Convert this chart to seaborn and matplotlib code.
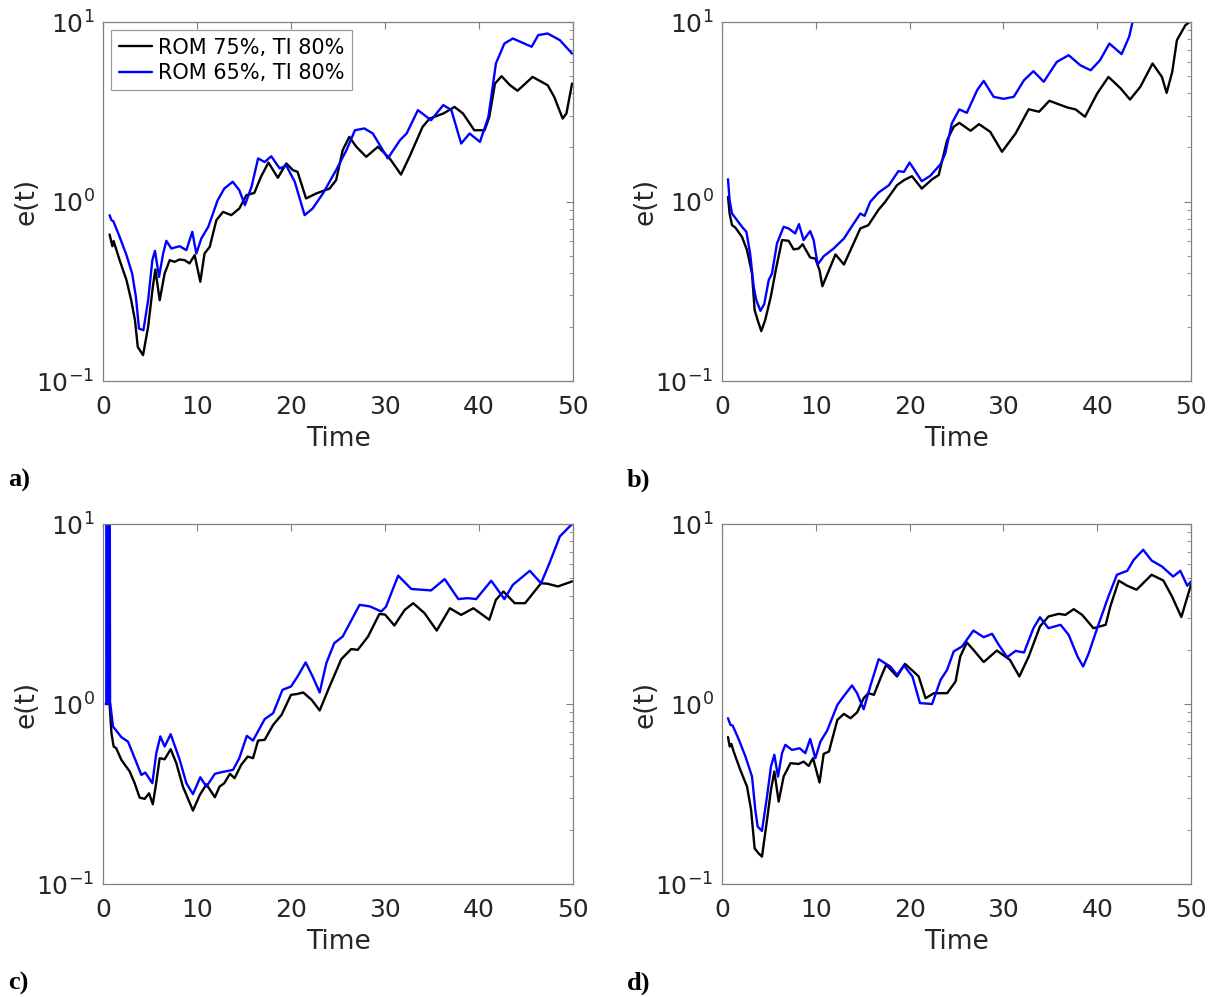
import numpy as np
import pandas as pd
import matplotlib
matplotlib.use("Agg")
import matplotlib.pyplot as plt
import matplotlib.ticker as mticker
import seaborn as sns

# ---------------- data (log10 of e(t)) ----------------
series_names = ["ROM 75%, TI 80%", "ROM 65%, TI 80%"]
series_colors = ["#000000", "#0000ff"]
panel_labels = ["a)", "b)", "c)", "d)"]

a_black_t = [0.7, 1.0, 1.13, 1.77, 2.5, 3.0, 3.4, 3.7, 4.26, 4.8, 5.3, 5.57, 6.03, 6.56, 7.1, 7.6, 8.16, 8.7, 9.2, 9.75,
             10.35, 10.8, 11.35, 12.06, 12.77, 13.65, 14.5, 15.25, 16.1, 16.8, 17.6, 18.6, 19.5, 20.2, 20.7, 21.6, 22.7,
             24.1, 24.8, 25.5, 26.2, 26.95, 28.0, 29.25, 30.5, 31.7, 32.6, 34.0, 34.75, 36.2, 37.4, 38.3, 39.5, 40.6,
             41.1, 41.7, 42.4, 43.3, 44.1, 45.7, 47.3, 48.0, 48.9, 49.3, 49.9]
a_black_log = [-0.184, -0.249, -0.22, -0.327, -0.438, -0.55, -0.661, -0.81, -0.856, -0.698, -0.475, -0.379, -0.55,
               -0.40, -0.327, -0.336, -0.323, -0.327, -0.345, -0.299, -0.447, -0.29, -0.253, -0.104, -0.058, -0.076,
               -0.039, 0.035, 0.048, 0.137, 0.217, 0.132, 0.212, 0.175, 0.165, 0.017, 0.045, 0.072, 0.119, 0.286,
               0.36, 0.305, 0.249, 0.305, 0.24, 0.150, 0.249, 0.416, 0.462, 0.49, 0.527, 0.49, 0.397, 0.397, 0.472,
               0.657, 0.698, 0.648, 0.617, 0.694, 0.648, 0.583, 0.462, 0.49, 0.657]
a_blue_t = [0.7, 0.9, 1.1, 1.77, 2.5, 3.1, 3.5, 3.83, 4.3, 4.8, 5.25, 5.53, 5.96, 6.4, 6.74, 7.27, 8.16, 8.87, 9.5,
            9.93, 10.46, 11.2, 12.2, 12.9, 13.8, 14.5, 15.1, 15.8, 16.5, 17.2, 17.9, 18.8, 19.5, 20.4, 21.45, 22.3,
            23.4, 24.8, 25.9, 26.8, 27.8, 28.7, 30.3, 31.6, 32.3, 33.5, 34.9, 36.2, 37.06, 38.1, 39.0, 40.1, 41.0,
            41.8, 42.7, 43.6, 45.6, 46.3, 47.3, 48.6, 49.9]
a_blue_log = [-0.076, -0.104, -0.11, -0.197, -0.299, -0.401, -0.531, -0.708, -0.717, -0.55, -0.327, -0.275, -0.42,
              -0.29, -0.219, -0.262, -0.249, -0.271, -0.169, -0.29, -0.206, -0.141, 0.007, 0.072, 0.11, 0.063, -0.02,
              0.082, 0.24, 0.22, 0.252, 0.184, 0.2, 0.11, -0.076, -0.039, 0.045, 0.175, 0.286, 0.397, 0.407, 0.379,
              0.24, 0.342, 0.379, 0.509, 0.453, 0.537, 0.509, 0.323, 0.379, 0.332, 0.472, 0.769, 0.88, 0.908, 0.862,
              0.927, 0.936, 0.899, 0.824]

b_black_t = [0.64, 0.81, 1.07, 1.42, 2.13, 2.67, 3.2, 3.48, 3.8, 4.19, 4.6, 5.2, 5.8, 6.4, 7.1, 7.64, 8.17, 8.6, 9.4,
             9.95, 10.4, 10.7, 11.4, 12.1, 13.0, 13.7, 14.75, 15.6, 16.7, 17.4, 18.66, 19.4, 20.25, 21.3, 22.4, 23.1,
             24.0, 24.7, 25.3, 26.5, 27.4, 28.6, 29.85, 31.3, 32.7, 33.8, 34.9, 36.8, 37.7, 38.7, 40.0, 41.2, 42.5,
             43.5, 44.6, 45.9, 46.9, 47.4, 48.0, 48.5, 49.4, 50.0]
b_black_log = [0.026, -0.067, -0.132, -0.145, -0.197, -0.271, -0.401, -0.605, -0.661, -0.722, -0.661, -0.531, -0.364,
               -0.215, -0.219, -0.267, -0.262, -0.238, -0.312, -0.318, -0.383, -0.472, -0.383, -0.295, -0.351, -0.271,
               -0.15, -0.132, -0.045, -0.002, 0.091, 0.119, 0.141, 0.072, 0.124, 0.147, 0.342, 0.416, 0.438, 0.394,
               0.431, 0.388, 0.277, 0.379, 0.514, 0.5, 0.561, 0.524, 0.513, 0.472, 0.602, 0.694, 0.63, 0.568, 0.639,
               0.769, 0.694, 0.605, 0.722, 0.899, 0.982, 1.006]
b_blue_t = [0.64, 0.81, 1.07, 1.6, 2.13, 2.6, 3.0, 3.38, 3.66, 4.1, 4.5, 4.98, 5.33, 5.86, 6.57, 7.1, 7.8, 8.2, 8.7,
            9.4, 9.77, 10.2, 10.84, 11.9, 13.0, 13.86, 14.75, 15.2, 15.8, 16.7, 17.8, 18.8, 19.4, 20.0, 21.3, 22.2,
            23.3, 23.8, 24.5, 25.3, 26.1, 27.2, 27.9, 28.96, 30.0, 31.1, 32.2, 33.2, 34.3, 35.7, 36.96, 38.2, 39.3,
            40.3, 41.3, 42.6, 43.4, 43.8, 44.5]
b_blue_log = [0.124, 0.007, -0.067, -0.104, -0.141, -0.169, -0.29, -0.475, -0.55, -0.609, -0.572, -0.438, -0.401,
              -0.234, -0.141, -0.15, -0.178, -0.126, -0.215, -0.165, -0.215, -0.351, -0.305, -0.262, -0.206, -0.137,
              -0.067, -0.08, -0.002, 0.05, 0.091, 0.169, 0.165, 0.217, 0.113, 0.143, 0.208, 0.267, 0.435, 0.513,
              0.494, 0.62, 0.672, 0.583, 0.572, 0.583, 0.676, 0.726, 0.667, 0.778, 0.815, 0.759, 0.731, 0.787, 0.88,
              0.821, 0.917, 1.006, 1.15]

c_black_t = [0.3, 0.7, 0.9, 1.13, 1.4, 1.95, 2.84, 3.37, 3.9, 4.43, 4.9, 5.3, 5.6, 6.03, 6.56, 7.2, 7.8, 8.5, 9.57,
             10.3, 11.0, 11.9, 12.4, 12.9, 13.5, 14.0, 14.7, 15.4, 15.96, 16.5, 17.2, 18.1, 19.0, 20.0, 20.6, 21.3,
             22.2, 23.05, 24.1, 25.35, 26.4, 27.1, 28.2, 29.4, 30.0, 31.0, 32.1, 33.0, 34.2, 35.5, 36.9, 38.1, 39.4,
             41.1, 41.8, 42.6, 43.8, 44.9, 46.6, 47.3, 48.4, 49.9]
c_black_log = [0.0, 0.0, -0.162, -0.236, -0.245, -0.31, -0.375, -0.44, -0.52, -0.527, -0.496, -0.557, -0.459, -0.301,
               -0.307, -0.251, -0.329, -0.459, -0.592, -0.505, -0.446, -0.518, -0.459, -0.44, -0.388, -0.412, -0.338,
               -0.292, -0.301, -0.203, -0.199, -0.116, -0.06, 0.051, 0.055, 0.064, 0.023, -0.036, 0.097, 0.249, 0.305,
               0.301, 0.375, 0.5, 0.497, 0.436, 0.523, 0.56, 0.505, 0.408, 0.532, 0.495, 0.532, 0.468, 0.579, 0.625,
               0.56, 0.56, 0.671, 0.668, 0.653, 0.681]
c_blue_t = [0.3, 0.35, 0.4, 0.45, 0.5, 0.55, 0.6, 0.65, 0.7, 0.75, 0.78, 1.06, 1.95, 2.66, 3.37, 4.08, 4.5, 5.25,
            5.67, 6.1, 6.56, 7.2, 8.16, 8.87, 9.57, 10.35, 11.0, 11.9, 12.77, 13.83, 14.5, 15.3, 15.96, 17.2, 18.1,
            19.1, 20.0, 20.7, 21.56, 22.3, 23.05, 23.76, 24.6, 25.5, 27.3, 28.4, 29.6, 30.1, 31.4, 32.8, 34.9, 36.35,
            37.8, 38.8, 39.7, 41.3, 42.7, 43.6, 45.4, 46.6, 47.5, 48.6, 49.9]
c_blue_log = [0.0, 0.0, 2.0, 0.0, 2.0, 0.0, 2.0, 0.0, 2.0, 0.0, 0.0, -0.125, -0.184, -0.209, -0.301, -0.394, -0.381,
              -0.44, -0.273, -0.18, -0.236, -0.168, -0.31, -0.44, -0.501, -0.407, -0.459, -0.388, -0.377, -0.366,
              -0.301, -0.177, -0.203, -0.084, -0.051, 0.079, 0.097, 0.153, 0.231, 0.153, 0.064, 0.227, 0.338, 0.375,
              0.551, 0.542, 0.514, 0.54, 0.713, 0.639, 0.631, 0.694, 0.583, 0.588, 0.583, 0.685, 0.583, 0.662, 0.74,
              0.671, 0.783, 0.931, 1.0]

d_black_t = [0.64, 0.82, 1.0, 1.24, 1.95, 2.67, 3.1, 3.48, 3.9, 4.26, 4.8, 5.22, 5.58, 6.04, 6.57, 7.3, 8.17, 8.7,
             9.24, 9.7, 10.4, 10.84, 11.4, 12.3, 13.0, 13.7, 14.4, 15.1, 15.6, 16.2, 16.9, 17.5, 18.66, 19.5, 20.4,
             20.97, 21.7, 22.6, 24.0, 24.9, 25.4, 26.1, 26.8, 27.9, 29.3, 30.7, 31.7, 32.7, 33.9, 34.8, 35.9, 36.6,
             37.5, 38.4, 39.6, 40.9, 41.4, 42.3, 43.2, 44.2, 45.8, 47.05, 47.97, 48.97, 50.0]
d_black_log = [-0.184, -0.236, -0.222, -0.264, -0.366, -0.459, -0.588, -0.802, -0.83, -0.848, -0.644, -0.477, -0.375,
               -0.542, -0.403, -0.329, -0.333, -0.32, -0.344, -0.301, -0.436, -0.277, -0.264, -0.088, -0.055, -0.079,
               -0.047, 0.032, 0.06, 0.051, 0.144, 0.218, 0.153, 0.223, 0.181, 0.153, 0.032, 0.06, 0.06, 0.125, 0.264,
               0.342, 0.301, 0.233, 0.297, 0.245, 0.153, 0.264, 0.431, 0.486, 0.501, 0.495, 0.527, 0.495, 0.421,
               0.44, 0.542, 0.685, 0.657, 0.635, 0.718, 0.686, 0.598, 0.483, 0.662]
d_blue_t = [0.64, 0.9, 1.14, 1.78, 2.5, 3.2, 3.55, 3.8, 4.26, 4.8, 5.22, 5.58, 5.97, 6.4, 6.75, 7.46, 8.28, 8.88, 9.4,
            9.95, 10.5, 11.2, 12.3, 13.0, 13.86, 14.4, 15.1, 15.8, 16.7, 17.95, 18.66, 19.4, 20.3, 21.1, 22.4, 23.3,
            24.0, 24.7, 25.6, 26.8, 27.9, 28.8, 29.5, 30.4, 31.3, 32.2, 33.2, 33.9, 34.8, 36.1, 36.96, 37.9, 38.5,
            39.1, 40.0, 41.2, 42.1, 43.2, 43.9, 44.9, 45.8, 46.9, 48.1, 48.86, 49.6, 50.0]
d_blue_log = [-0.079, -0.116, -0.12, -0.196, -0.292, -0.403, -0.588, -0.681, -0.705, -0.514, -0.347, -0.282, -0.403,
              -0.273, -0.227, -0.255, -0.246, -0.273, -0.194, -0.301, -0.208, -0.149, -0.005, 0.045, 0.103, 0.06,
              -0.029, 0.097, 0.249, 0.208, 0.162, 0.214, 0.153, 0.005, 0.0, 0.134, 0.19, 0.292, 0.32, 0.408, 0.371,
              0.39, 0.329, 0.26, 0.295, 0.286, 0.421, 0.482, 0.421, 0.44, 0.384, 0.264, 0.208, 0.282, 0.421, 0.598,
              0.718, 0.74, 0.801, 0.857, 0.797, 0.764, 0.708, 0.74, 0.657, 0.68]

panels = [
    (a_black_t, a_black_log, a_blue_t, a_blue_log),
    (b_black_t, b_black_log, b_blue_t, b_blue_log),
    (c_black_t, c_black_log, c_blue_t, c_blue_log),
    (d_black_t, d_black_log, d_blue_t, d_blue_log),
]

# ---------------- styling ----------------
sns.set_style("white")
plt.rcParams["font.family"] = ["DejaVu Sans"]
plt.rcParams["mathtext.fontset"] = "dejavusans"

fig = plt.figure(figsize=(12.12, 9.97), dpi=100)
W, H = 1212.0, 997.0
# axes boxes in pixels: (left, top, right, bottom)
boxes = [(103, 22, 573, 381), (722, 22, 1191, 381), (103, 524, 573, 884), (722, 524, 1191, 884)]
label_pos = [(8, 487), (627, 487), (8, 990), (627, 990)]

axis_gray = "#808080"
text_gray = "#262626"

for i, (bt, bl, ut, ul) in enumerate(panels):
    l, t, r, b = boxes[i]
    ax = fig.add_axes([l / W, 1 - b / H, (r - l) / W, (b - t) / H])
    df = pd.concat([
        pd.DataFrame({"Time": bt, "e": np.power(10.0, bl), "series": series_names[0]}),
        pd.DataFrame({"Time": ut, "e": np.power(10.0, ul), "series": series_names[1]}),
    ], ignore_index=True)
    sns.lineplot(data=df, x="Time", y="e", hue="series", palette=dict(zip(series_names, series_colors)),
                 estimator=None, sort=False, linewidth=1.7, ax=ax, legend=(i == 0))
    ax.set_yscale("log")
    ax.set_xlim(0, 50)
    ax.set_ylim(0.1, 10)
    ax.set_xticks([0, 10, 20, 30, 40, 50])
    ax.yaxis.set_major_locator(mticker.LogLocator(base=10, numticks=10))
    ax.yaxis.set_minor_locator(mticker.LogLocator(base=10, subs=np.arange(2, 10), numticks=10))
    ax.yaxis.set_minor_formatter(mticker.NullFormatter())
    ax.set_xlabel("Time", fontsize=19, color=text_gray, labelpad=5)
    ax.set_ylabel("e(t)", fontsize=19, color=text_gray, labelpad=-2)
    ax.tick_params(which="both", direction="in", top=True, right=True, colors=axis_gray,
                   labelcolor=text_gray, labelsize=18)
    ax.tick_params(which="major", length=5, width=0.8)
    ax.tick_params(which="minor", length=3, width=0.6)
    ax.tick_params(axis="x", pad=10)
    ax.tick_params(axis="y", pad=6)
    for s in ax.spines.values():
        s.set_visible(True)
        s.set_color(axis_gray)
        s.set_linewidth(0.9)
    ax.grid(False)
    if i == 0:
        leg = ax.legend(loc="upper left", fontsize=15, frameon=True, fancybox=False,
                        handlelength=1.6, handletextpad=0.3, borderpad=0.35, labelspacing=0.25,
                        borderaxespad=0.4, title=None)
        leg.get_frame().set_edgecolor(axis_gray)
        leg.get_frame().set_linewidth(0.9)
        for txt in leg.get_texts():
            txt.set_color("#000000")
    lx, ly = label_pos[i]
    fig.text(lx / W, 1 - ly / H, panel_labels[i], fontsize=19, fontweight="bold", color="#000000",
             family="Liberation Serif", ha="left", va="baseline")

fig.savefig("out.png", dpi=100)
